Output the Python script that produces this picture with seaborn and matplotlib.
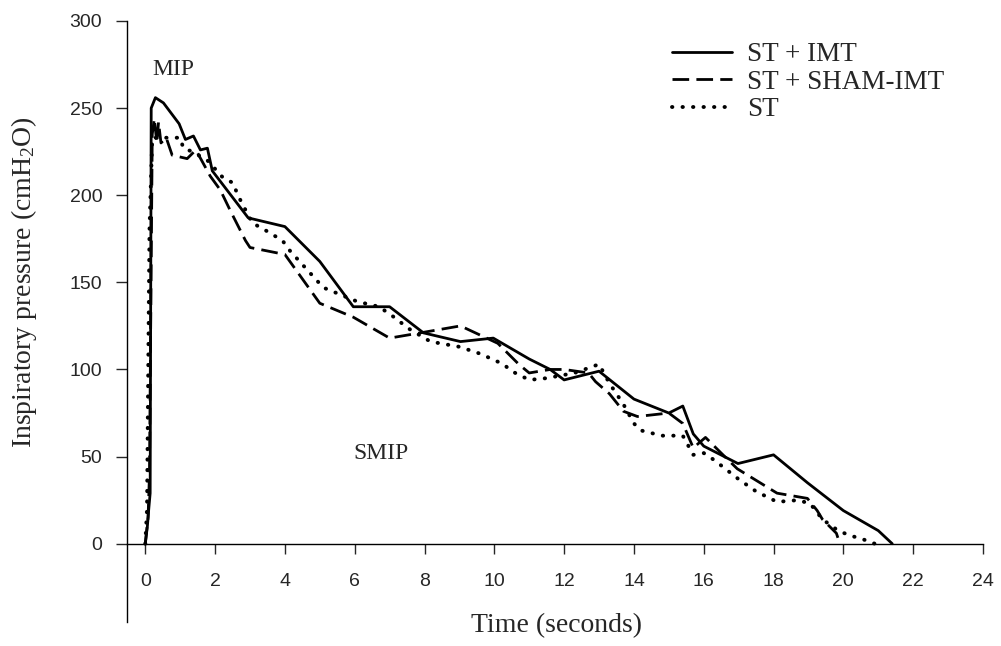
import pandas as pd
import matplotlib
matplotlib.use("Agg")
import matplotlib.pyplot as plt
import seaborn as sns

# --- values (time in s, pressure in cmH2O) ---
imt_time = [0, 0.06, 0.10, 0.14, 0.17, 0.29, 0.52, 0.97, 1.15, 1.38, 1.58, 1.78, 1.92,
            2.95, 4.0, 5.0, 5.96, 7.0, 7.97, 9.03, 9.97, 11.0, 11.6, 12.0, 13.0, 14.0,
            15.0, 15.4, 15.7, 16.0, 16.98, 18.0, 18.97, 20.0, 21.0, 21.4]
imt_pressure = [0, 10, 20, 29, 250, 256, 253, 241, 232, 234, 226, 227, 214,
                187, 182, 162, 136, 136, 121, 116, 118, 106, 100, 94, 99, 83,
                75, 79, 63, 56, 46, 51, 35, 19, 7.5, 0]

sham_time = [0, 0.08, 0.12, 0.20, 0.26, 0.33, 0.38, 0.45, 0.60, 0.77, 1.2, 1.45, 1.86,
             2.15, 2.44, 2.87, 3.0, 4.0, 5.0, 5.96, 7.0, 7.88, 9.03, 10.1, 10.7, 11.0,
             11.6, 12.0, 12.7, 12.9, 13.3, 13.7, 14.1, 15.0, 15.4, 15.7, 16.05, 16.5,
             16.96, 18.1, 18.97, 19.25, 19.4, 19.8, 19.9]
sham_pressure = [0, 15, 40, 235, 244, 230, 242, 230, 233, 223, 221, 226, 211,
                 203, 191, 174, 170, 166, 138, 130, 118, 121, 125, 115, 103, 98,
                 100, 100, 98, 93, 86, 76, 73, 75, 69, 55, 61, 52,
                 43, 29, 26, 19, 14, 6, 0]

st_time = [0, 0.05, 0.08, 0.12, 0.20, 0.34, 1.0, 1.09, 1.35, 1.78, 2.23, 2.52, 2.63,
           2.78, 3.07, 3.35, 3.93, 4.15, 5.1, 6.07, 6.7, 7.2, 7.5, 8.17, 9.0, 9.6,
           10.26, 10.5, 11.0, 11.5, 12.3, 13.0, 13.3, 13.7, 14.0, 14.2, 14.8, 15.4,
           15.7, 16.0, 16.3, 17.0, 17.5, 18.1, 18.7, 19.05, 19.4, 19.85, 20.2, 20.5, 20.9]
st_pressure = [0, 20, 90, 180, 233, 233, 233, 227, 225, 220, 210, 207, 201,
               195, 184, 181, 174, 168, 147, 139, 136, 129, 124, 116, 113, 109,
               103, 99, 94, 95, 98, 103, 92, 80, 69, 65, 62, 62,
               51, 52, 48, 37, 30, 24, 25, 23, 14, 7.5, 4.6, 3, 0]

groups = ["ST + IMT", "ST + SHAM-IMT", "ST"]
x_ticks = list(range(0, 25, 2))
y_ticks = list(range(0, 301, 50))

df = pd.concat([
    pd.DataFrame({"time": imt_time, "pressure": imt_pressure, "group": groups[0]}),
    pd.DataFrame({"time": sham_time, "pressure": sham_pressure, "group": groups[1]}),
    pd.DataFrame({"time": st_time, "pressure": st_pressure, "group": groups[2]}),
])

sns.set_style("ticks")
plt.rcParams["font.family"] = ["Liberation Serif", "DejaVu Serif"]
plt.rcParams["mathtext.fontset"] = "custom"
plt.rcParams["mathtext.rm"] = "Liberation Serif"
plt.rcParams["mathtext.it"] = "Liberation Serif:italic"

fig = plt.figure(figsize=(10.01, 6.46), dpi=100)
ax = fig.add_axes([0.127, 0.037, 0.855, 0.9305])

styles = {
    "ST + IMT": dict(linestyle="-", lw=2.0),
    "ST + SHAM-IMT": dict(linestyle=(0, (6.0, 2.6)), lw=2.0),
    "ST": dict(linestyle=(0, (0.1, 2.6)), lw=2.8, dash_capstyle="round"),
}
for g in groups:
    sns.lineplot(data=df[df["group"] == g], x="time", y="pressure", ax=ax,
                 color="black", sort=False, estimator=None, label=g, **styles[g])

ax.set_xlim(-0.52, 24)
ax.set_ylim(-45, 300)
ax.set_xticks(x_ticks)
ax.set_yticks(y_ticks)
ax.spines["top"].set_visible(False)
ax.spines["right"].set_visible(False)
ax.spines["bottom"].set_position(("data", 0))
for s in ["left", "bottom"]:
    ax.spines[s].set_linewidth(1.0)
    ax.spines[s].set_color("black")

ax.tick_params(axis="x", direction="out", length=7, width=1, pad=14, labelsize=14)
ax.tick_params(axis="y", direction="out", length=8, width=1, pad=10, labelsize=14)
for lab in ax.get_xticklabels() + ax.get_yticklabels():
    lab.set_fontfamily("Liberation Sans")

ax.set_xlabel("Time (seconds)", fontsize=20)
ax.xaxis.set_label_coords(0.502, 0.015)
ax.set_ylabel("Inspiratory pressure (cmH$_2$O)", fontsize=20)
ax.yaxis.set_label_coords(-0.103, 0.565)

ax.text(0.8, 272, "MIP", fontsize=17, ha="center", va="center")
ax.text(6.76, 52, "SMIP", fontsize=17, ha="center", va="center")

ax.legend(frameon=False, loc="upper left", bbox_to_anchor=(0.637, 0.965),
          fontsize=19.5, handlelength=2.2, handletextpad=0.55, labelspacing=0.1,
          borderpad=0, borderaxespad=0)

fig.savefig("out.png", dpi=100)
